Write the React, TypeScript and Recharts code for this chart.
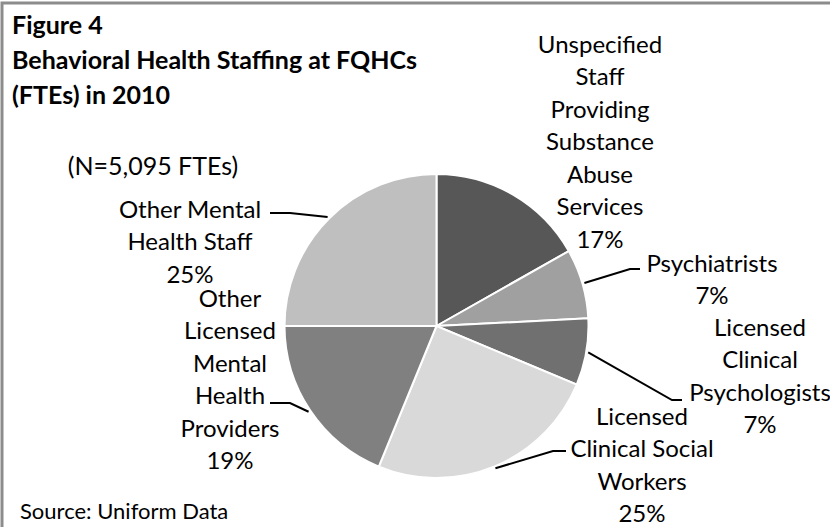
import React from 'react'
import { PieChart, Pie, Cell } from 'recharts'

// staffing categories, clockwise from 12 o'clock
const categories = [
  'Unspecified Staff Providing Substance Abuse Services',
  'Psychiatrists',
  'Licensed Clinical Psychologists',
  'Licensed Clinical Social Workers',
  'Other Licensed Mental Health Providers',
  'Other Mental Health Staff',
]
// share of FTEs (%)
const shares = [16.8, 7.4, 7.1, 24.9, 18.8, 25.0]
// label text as wrapped in the figure
const labelLines = [
  ['Unspecified', 'Staff', 'Providing', 'Substance', 'Abuse', 'Services'],
  ['Psychiatrists'],
  ['Licensed', 'Clinical', 'Psychologists'],
  ['Licensed', 'Clinical Social', 'Workers'],
  ['Other', 'Licensed', 'Mental', 'Health', 'Providers'],
  ['Other Mental', 'Health Staff'],
]
const sliceColors = ['#575757', '#a0a0a0', '#707070', '#d9d9d9', '#808080', '#bfbfbf']

const data = categories.map((name, i) => ({ name, value: shares[i] }))

const FONT = 'Lato, "Open Sans", sans-serif'
const LINE_H = 32.5

// label block placement + leader knee/end (layout only)
const labelLayout = [
  { x: 600, y: 43, leader: null },
  { x: 712, y: 262, leader: [[630, 269], [640, 269]] },
  { x: 760, y: 326, leader: [[672, 400], [682, 400]] },
  { x: 642, y: 415, leader: [[553, 451], [566, 451]] },
  { x: 230, y: 297, leader: [[290, 403], [270, 403]] },
  { x: 190, y: 208, leader: [[290, 213], [270, 213]] },
]

const RAD = Math.PI / 180

const renderLabel = (props: any) => {
  const { cx, cy, midAngle, outerRadius, index, value } = props
  const lay = labelLayout[index]
  const lines = [...labelLines[index], `${Math.round(value)}%`]
  let leader = null
  if (lay.leader) {
    const sx = cx + (outerRadius + 2) * Math.cos(-midAngle * RAD)
    const sy = cy + (outerRadius + 2) * Math.sin(-midAngle * RAD)
    const pts = [[sx, sy], ...lay.leader].map((p) => p.join(',')).join(' ')
    leader = <polyline points={pts} fill="none" stroke="#000" strokeWidth={2} />
  }
  return (
    <g key={`lbl-${index}`}>
      {leader}
      {lines.map((t, i) => (
        <text
          key={i}
          x={lay.x}
          y={lay.y + i * LINE_H}
          textAnchor="middle"
          dominantBaseline="central"
          fontFamily={FONT}
          fontSize={24}
          fill="#000"
        >
          {t}
        </text>
      ))}
    </g>
  )
}

const App = () => {
  return (
    <div style={{ position: 'absolute', left: 0, top: 0, width: 830, height: 527, background: '#fff', overflow: 'hidden' }}>
      <PieChart width={830} height={527} margin={{ top: 0, right: 0, bottom: 0, left: 0 }}>
        <Pie
          data={data}
          dataKey="value"
          nameKey="name"
          cx={436.5}
          cy={326}
          outerRadius={152}
          startAngle={90}
          endAngle={-270}
          stroke="#fff"
          strokeWidth={2}
          label={renderLabel}
          labelLine={false}
          isAnimationActive={false}
        >
          {data.map((d, i) => (
            <Cell key={d.name} fill={sliceColors[i]} />
          ))}
        </Pie>
      </PieChart>
      <svg width={830} height={527} style={{ position: 'absolute', left: 0, top: 0, pointerEvents: 'none' }}>
        <polyline points="2,527 2,3 830,3" fill="none" stroke="#8c8c8c" strokeWidth={3} />
        <g fontFamily={FONT} fontWeight="bold" fontSize={25} fill="#000">
          <text x={12} y={24} dominantBaseline="central">Figure 4</text>
          <text x={12} y={59} dominantBaseline="central">Behavioral Health Staffing at FQHCs</text>
          <text x={12} y={94} dominantBaseline="central">(FTEs) in 2010</text>
        </g>
        <text x={153} y={165} textAnchor="middle" dominantBaseline="central" fontFamily={FONT} fontSize={25}>
          (N=5,095 FTEs)
        </text>
        <text x={20} y={510} dominantBaseline="central" fontFamily={FONT} fontSize={22}>
          Source: Uniform Data
        </text>
      </svg>
    </div>
  )
}

export default App
